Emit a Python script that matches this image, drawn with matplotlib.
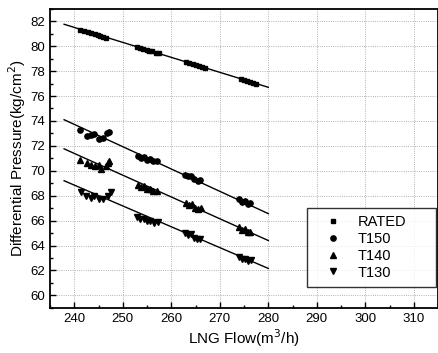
import numpy as np
import matplotlib
matplotlib.use('Agg')
import matplotlib.pyplot as plt
from matplotlib.ticker import MultipleLocator

plt.rcParams['font.family'] = ['Liberation Sans', 'DejaVu Sans']

# measured points (LNG flow [m3/h], differential pressure [kg/cm2])
rated_x = [241.2, 242.0, 242.8, 243.5, 244.2, 244.8, 245.4, 246.0, 246.6,
           253.0, 253.6, 254.2, 254.9, 255.5, 256.1, 256.8, 257.4,
           263.0, 263.7, 264.4, 265.0, 265.7, 266.4, 267.0,
           274.4, 275.0, 275.6, 276.2, 276.8, 277.4]
rated_y = [81.30, 81.25, 81.12, 81.05, 80.98, 80.92, 80.85, 80.72, 80.66,
           79.92, 79.85, 79.80, 79.70, 79.62, 79.58, 79.48, 79.42,
           78.72, 78.66, 78.55, 78.50, 78.42, 78.34, 78.25,
           77.35, 77.28, 77.22, 77.12, 77.05, 76.98]

t150_x = [241.1, 242.7, 243.5, 244.1, 245.1, 246.0, 246.8, 247.1,
          253.2, 253.8, 254.4, 255.0, 255.6, 256.3, 257.0,
          262.8, 263.4, 264.0, 264.7, 265.4, 266.0,
          274.0, 274.6, 275.2, 275.8, 276.3]
t150_y = [73.25, 72.80, 72.90, 72.95, 72.55, 72.65, 73.00, 73.15,
          71.20, 71.05, 71.10, 70.90, 70.95, 70.75, 70.80,
          69.65, 69.55, 69.60, 69.35, 69.20, 69.25,
          67.75, 67.50, 67.60, 67.35, 67.40]

t140_x = [241.2, 242.6, 243.5, 244.2, 245.0, 245.6, 246.5, 247.0, 247.2,
          253.1, 253.7, 254.3, 255.0, 255.6, 256.3, 257.0,
          263.0, 263.6, 264.2, 264.9, 265.5, 266.1,
          274.0, 274.6, 275.2, 275.8, 276.3]
t140_y = [70.90, 70.60, 70.45, 70.40, 70.50, 70.15, 70.35, 70.60, 70.80,
          68.85, 68.70, 68.75, 68.50, 68.55, 68.35, 68.40,
          67.40, 67.25, 67.30, 67.05, 66.95, 67.00,
          65.45, 65.25, 65.30, 65.05, 65.10]

t130_x = [241.4, 242.5, 243.4, 244.0, 245.0, 246.0, 247.0, 247.5,
          252.9, 253.6, 254.3, 255.0, 255.7, 256.4, 257.2,
          262.8, 263.4, 264.0, 264.6, 265.3, 266.0,
          274.0, 274.6, 275.2, 275.8, 276.4]
t130_y = [68.30, 68.00, 67.85, 67.95, 67.70, 67.70, 68.00, 68.30,
          66.30, 66.10, 66.15, 65.95, 66.00, 65.80, 65.85,
          65.00, 64.85, 64.90, 64.60, 64.50, 64.55,
          63.10, 62.90, 62.95, 62.75, 62.80]

# fitted lines: x range and end values
fit_x = [237.9, 280.0]
rated_fit = [81.76, 76.70]
t150_fit = [74.10, 66.56]
t140_fit = [71.76, 64.40]
t130_fit = [69.20, 62.16]

fig = plt.figure(figsize=(4.39, 3.53), dpi=100)
ax = fig.add_axes([0.114, 0.128, 0.884, 0.847])

ax.grid(True, color='#999999', linestyle=':', linewidth=0.6)
ax.set_axisbelow(True)

for fy in (rated_fit, t150_fit, t140_fit, t130_fit):
    ax.plot(fit_x, fy, color='black', linewidth=1.0)

ax.plot(rated_x, rated_y, 's', color='black', markersize=3.5, label='RATED')
ax.plot(t150_x, t150_y, 'o', color='black', markersize=3.8, label='T150')
ax.plot(t140_x, t140_y, '^', color='black', markersize=4, label='T140')
ax.plot(t130_x, t130_y, 'v', color='black', markersize=4, label='T130')

ax.set_xlim(235, 315)
ax.set_ylim(59, 83)
ax.xaxis.set_major_locator(MultipleLocator(10))
ax.xaxis.set_minor_locator(MultipleLocator(5))
ax.yaxis.set_major_locator(MultipleLocator(2))
ax.yaxis.set_minor_locator(MultipleLocator(1))
ax.tick_params(which='both', direction='in', top=False, right=False,
               labelsize=9.5, width=1.0)
ax.tick_params(which='major', length=4)
ax.tick_params(which='minor', length=2)
for s in ax.spines.values():
    s.set_linewidth(1.3)

ax.set_xlabel('LNG Flow(m$^3$/h)', fontsize=11, labelpad=2)
ax.set_ylabel('Differential Pressure(kg/cm$^2$)', fontsize=11, labelpad=2)

leg = ax.legend(loc='lower left', bbox_to_anchor=(0.662, 0.07, 0.333, 0.27),
                mode='expand', fontsize=10.5, frameon=True, fancybox=False,
                edgecolor='black', handlelength=2.6, handletextpad=0.4,
                borderpad=0.5, labelspacing=0.2, borderaxespad=0.0)
leg.get_frame().set_linewidth(1.0)

fig.savefig('out.png', dpi=100)
